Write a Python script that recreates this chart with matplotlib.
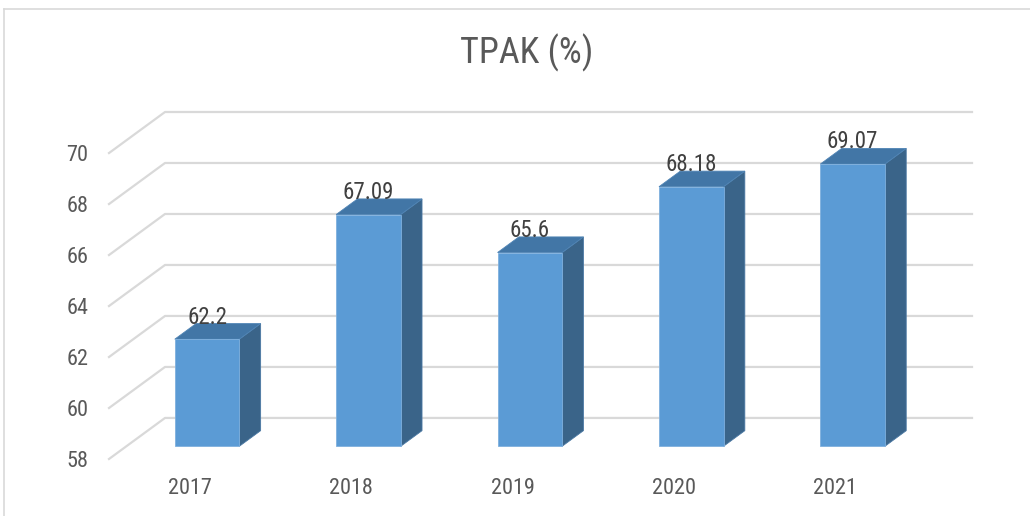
import matplotlib as mpl; mpl.use("Agg")
import matplotlib.pyplot as plt
from matplotlib import font_manager
from matplotlib.patches import Polygon
from matplotlib.lines import Line2D

# Data
# ------------------------------------------------------------------------------
years = ["2017", "2018", "2019", "2020", "2021"]
tpak = [62.2, 67.09, 65.6, 68.18, 69.07]
labels = ["62.2", "67.09", "65.6", "68.18", "69.07"]
yticks_v = [58, 60, 62, 64, 66, 68, 70]

# Style
# ------------------------------------------------------------------------------
names = {f.name for f in font_manager.fontManager.ttflist}
narrow = None
for cand in ["Liberation Sans Narrow", "Arial Narrow", "Roboto Condensed",
             "DejaVu Sans Condensed", "Open Sans Condensed"]:
    if cand in names:
        narrow = cand
        break
family = narrow or "Liberation Sans"
plt.rcParams["font.family"] = [family, "DejaVu Sans"]
# without a narrow face, shrink a bit so the text widths stay close
fs_small = 16 if narrow else 15
fs_title = 26 if narrow else 23.5

FRONT = "#5B9BD5"
TOP = "#4276A6"
SIDE = "#3A6489"
GRID = "#D9D9D9"

# depth offset of the back wall, in data units
DX, DY = 0.347, 1.61
D0, D1 = 0.31, 0.69     # bar depth span
HW = 0.2                # half bar width
YMIN = 58

def p(x, y, d):
    return (x + d * DX, y + d * DY)

fig = plt.figure(figsize=(10.3, 5.16), dpi=100)
W, H = 1030, 516
ax = fig.add_axes([109 / W, (H - 459) / H, (972 - 109) / W, (459 - 112) / H])
n = len(years)
ax.set_xlim(-0.5, n - 0.5 + DX)
ax.set_ylim(YMIN, yticks_v[-1] + DY)
for s in ax.spines.values():
    s.set_visible(False)

# gridlines: diagonal from front to back wall, then along back wall
for v in yticks_v:
    xs = [-0.5, -0.5 + DX, n - 0.5 + DX]
    ys = [v, v + DY, v + DY]
    ax.plot(xs, ys, color=GRID, lw=1.6, clip_on=False, zorder=1)

for i, v in enumerate(tpak):
    front = [p(i - HW, YMIN, D0), p(i + HW, YMIN, D0), p(i + HW, v, D0), p(i - HW, v, D0)]
    top = [p(i - HW, v, D0), p(i + HW, v, D0), p(i + HW, v, D1), p(i - HW, v, D1)]
    side = [p(i + HW, YMIN, D0), p(i + HW, YMIN, D1), p(i + HW, v, D1), p(i + HW, v, D0)]
    ax.add_patch(Polygon(side, closed=True, facecolor=SIDE, edgecolor="#4A78A3", lw=0.6, zorder=3, clip_on=False))
    ax.add_patch(Polygon(top, closed=True, facecolor=TOP, edgecolor="#4F84B5", lw=0.6, zorder=3, clip_on=False))
    ax.add_patch(Polygon(front, closed=True, facecolor=FRONT, edgecolor="#7FB0DE", lw=0.6, zorder=4, clip_on=False))
    lx, ly = p(i, v, D1)
    ax.text(i + D0 * DX, ly, labels[i], ha="center", va="baseline",
            fontsize=fs_small + 0.5, color="#404040", zorder=5)

ax.set_yticks(yticks_v)
ax.set_yticklabels([str(t) for t in yticks_v])
ax.set_xticks(range(n))
ax.set_xticklabels(years)
ax.tick_params(axis="y", length=0, pad=15, labelsize=fs_small, labelcolor="#595959")
ax.tick_params(axis="x", length=0, pad=14, labelsize=fs_small, labelcolor="#595959")

fig.text(527 / W, 1 - 63 / H, "TPAK (%)", ha="center", va="baseline",
         fontsize=fs_title, color="#595959")

# chart area border (top and left visible)
fig.add_artist(Line2D([4 / W, 1.0], [1 - 9 / H, 1 - 9 / H], color=GRID, lw=1.2, transform=fig.transFigure))
fig.add_artist(Line2D([4 / W, 4 / W], [0.0, 1 - 9 / H], color=GRID, lw=1.2, transform=fig.transFigure))

fig.savefig("out.png", dpi=100)
